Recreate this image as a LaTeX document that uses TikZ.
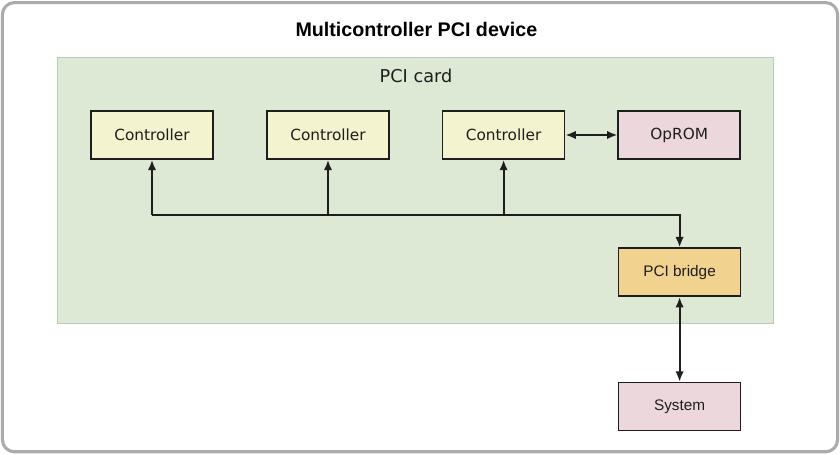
\documentclass[tikz,border=0pt]{standalone}
\usepackage{fontspec}
\newfontfamily\verdanafont{DejaVu Sans}
\newfontfamily\arialfont{Liberation Sans}
\usetikzlibrary{positioning, arrows.meta}

\definecolor{framegray}{HTML}{ABABAB}
\definecolor{cardgreen}{HTML}{DDE9D4}
\definecolor{cardedge}{HTML}{BDC9B7}
\definecolor{ctrlyellow}{HTML}{F4F3CF}
\definecolor{rompink}{HTML}{ECD7DC}
\definecolor{bridgeorange}{HTML}{F1D28E}
\definecolor{inkdark}{HTML}{1E1E1E}

\begin{document}
\begin{tikzpicture}[
    >={Latex[length=2.6mm, width=2.1mm]},
    block/.style = {rectangle, draw = inkdark, line width = 1.2pt, text = inkdark,
                    minimum height = 1.2cm, minimum width = 3.05cm, inner sep = 0pt},
    ctrlbox/.style = {block, fill = ctrlyellow, font = \verdanafont\fontsize{10.9}{13}\selectfont},
    wire/.style = {draw = inkdark, line width = 1.4pt}
]
\useasboundingbox (0, 0) rectangle (21, 11.375);

% outer frame and card
\draw [framegray, line width = 2.2pt, rounded corners = 0.3cm] (0.06, 0.08) rectangle (20.94, 11.31);
\node [font = \arialfont\bfseries\fontsize{14}{16}\selectfont, anchor = base] (title) at (10.41, 10.46) {Multicontroller PCI device};
\draw [fill = cardgreen, draw = cardedge, line width = 0.6pt] (1.425, 3.3) rectangle (19.325, 9.95);
\node [font = \verdanafont\fontsize{12.6}{15}\selectfont, text = inkdark, anchor = base] (card) at (10.4, 9.3) {PCI card};

% controllers and option ROM
\node [ctrlbox] (ctrl1) at (3.8, 8) {Controller};
\node [ctrlbox] (ctrl2) at (8.2, 8) {Controller};
\node [ctrlbox] (ctrl3) at (12.59, 8) {Controller};
\node [block, fill = rompink, font = \verdanafont\fontsize{10.9}{13}\selectfont, right = 1.3cm of ctrl3] (oprom) {OpROM};

% bridge and system
\node [block, fill = bridgeorange, font = \arialfont\fontsize{10.9}{13}\selectfont] (bridge) at (16.99, 4.57) {PCI bridge};
\node [block, fill = rompink, font = \arialfont\fontsize{10.9}{13}\selectfont] (system) at (16.99, 1.21) {System};

\coordinate (bus) at (0, 6);
    \draw [wire, ->] (ctrl1.south |- bus) -| (bridge.north);
    \draw [wire, ->] (ctrl1.south |- bus) -- (ctrl1.south);
    \draw [wire, ->] (ctrl2.south |- bus) -- (ctrl2.south);
    \draw [wire, ->] (ctrl3.south |- bus) -- (ctrl3.south);
    \draw [wire, <->] (ctrl3.east) -- (oprom.west);
    \draw [wire, <->] (bridge.south) -- (system.north);
\end{tikzpicture}
\end{document}
